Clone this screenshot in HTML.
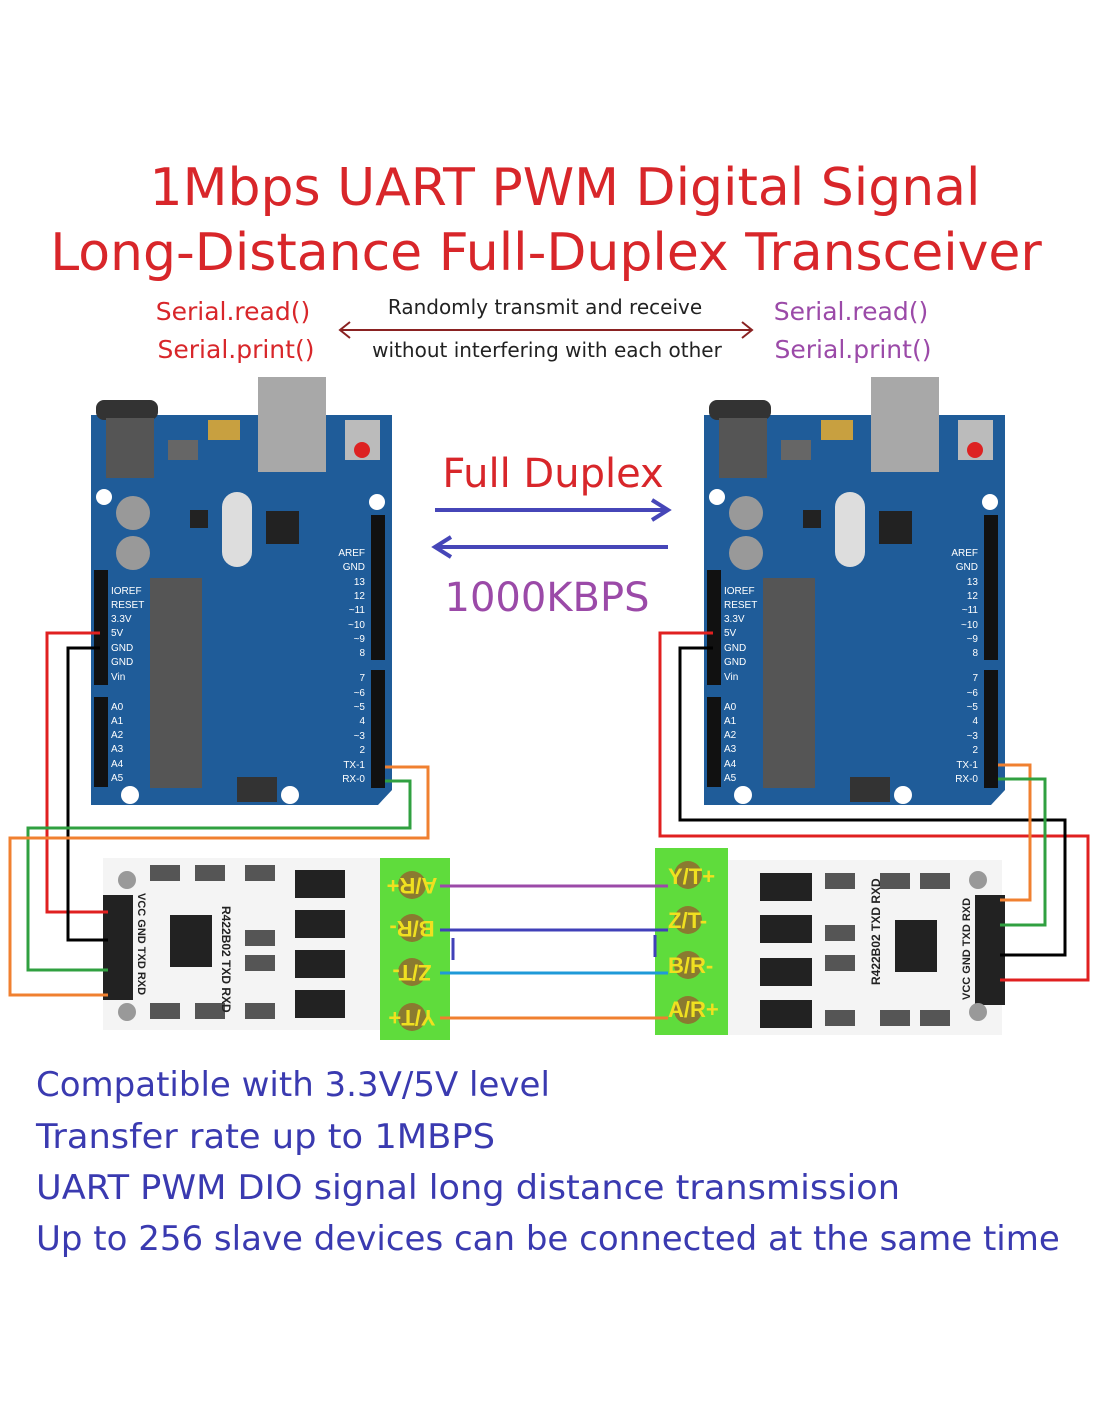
<!DOCTYPE html>
<html><head><meta charset="utf-8"><style>
html,body{margin:0;padding:0;background:#fff}
svg{display:block}
text{font-family:"Liberation Sans","DejaVu Sans",sans-serif}
.t{font-family:"DejaVu Sans","Liberation Sans",sans-serif}
</style></head><body>
<svg width="1100" height="1422" viewBox="0 0 1100 1422" xmlns="http://www.w3.org/2000/svg">
<rect width="1100" height="1422" fill="#fff"/>
<text class="t" x="565" y="205" font-size="52" fill="#d8262a" text-anchor="middle">1Mbps UART PWM Digital Signal</text>
<text class="t" x="546" y="270" font-size="52" fill="#d8262a" text-anchor="middle">Long-Distance Full-Duplex Transceiver</text>
<text class="t" x="233" y="320" font-size="25" fill="#d8262a" text-anchor="middle">Serial.read()</text>
<text class="t" x="236" y="358" font-size="25" fill="#d8262a" text-anchor="middle">Serial.print()</text>
<text class="t" x="851" y="320" font-size="25" fill="#9b4aa8" text-anchor="middle">Serial.read()</text>
<text class="t" x="853" y="358" font-size="25" fill="#9b4aa8" text-anchor="middle">Serial.print()</text>
<text class="t" x="545" y="314" font-size="20" fill="#222" text-anchor="middle">Randomly transmit and receive</text>
<text class="t" x="547" y="357" font-size="20" fill="#222" text-anchor="middle">without interfering with each other</text>
<line x1="340" y1="330" x2="752" y2="330" stroke="#8a2222" stroke-width="2"/>
<path d="M350 322 L340 330 L350 338 M742 322 L752 330 L742 338" fill="none" stroke="#8a2222" stroke-width="2"/>
<text class="t" x="553" y="487" font-size="40" fill="#d8262a" text-anchor="middle">Full Duplex</text>
<line x1="435" y1="510" x2="668" y2="510" stroke="#4646b8" stroke-width="4"/>
<path d="M652 500 L668 510 L652 520" fill="none" stroke="#4646b8" stroke-width="4"/>
<line x1="435" y1="547" x2="668" y2="547" stroke="#4646b8" stroke-width="4"/>
<path d="M451 537 L435 547 L451 557" fill="none" stroke="#4646b8" stroke-width="4"/>
<text class="t" x="547" y="611" font-size="40" fill="#9b4aa8" text-anchor="middle">1000KBPS</text>

<g>
<path d="M91 415 H392 V790 L378 805 H91 Z" fill="#1f5c99"/>
<rect x="258" y="377" width="68" height="95" fill="#a8a8a8"/>
<rect x="96" y="400" width="62" height="20" rx="8" fill="#333"/>
<rect x="106" y="418" width="48" height="60" fill="#555"/>
<rect x="345" y="420" width="35" height="40" fill="#bbb"/><circle cx="362" cy="450" r="8" fill="#d22"/>
<rect x="208" y="420" width="32" height="20" fill="#c8a040"/>
<rect x="168" y="440" width="30" height="20" fill="#666"/>
<circle cx="133" cy="513" r="17" fill="#999"/><circle cx="133" cy="553" r="17" fill="#999"/>
<rect x="222" y="492" width="30" height="75" rx="15" fill="#ddd"/>
<rect x="266" y="511" width="33" height="33" fill="#222"/>
<rect x="190" y="510" width="18" height="18" fill="#222"/>
<rect x="150" y="578" width="52" height="210" fill="#555"/>
<circle cx="104" cy="497" r="8" fill="#fff"/><circle cx="377" cy="502" r="8" fill="#fff"/>
<circle cx="130" cy="795" r="9" fill="#fff"/><circle cx="290" cy="795" r="9" fill="#fff"/>
<rect x="237" y="777" width="40" height="25" fill="#333"/>
<rect x="94" y="570" width="14" height="115" fill="#111"/>
<rect x="94" y="697" width="14" height="90" fill="#111"/>
<rect x="371" y="515" width="14" height="145" fill="#111"/>
<rect x="371" y="670" width="14" height="118" fill="#111"/>
<g font-size="10" fill="#fff">
<text x="111" y="594">IOREF</text><text x="111" y="608">RESET</text><text x="111" y="622">3.3V</text><text x="111" y="636">5V</text><text x="111" y="651">GND</text><text x="111" y="665">GND</text><text x="111" y="680">Vin</text>
<text x="111" y="710">A0</text><text x="111" y="724">A1</text><text x="111" y="738">A2</text><text x="111" y="752">A3</text><text x="111" y="767">A4</text><text x="111" y="781">A5</text>
<text x="365" y="556" text-anchor="end">AREF</text><text x="365" y="570" text-anchor="end">GND</text><text x="365" y="585" text-anchor="end">13</text><text x="365" y="599" text-anchor="end">12</text><text x="365" y="613" text-anchor="end">~11</text><text x="365" y="628" text-anchor="end">~10</text><text x="365" y="642" text-anchor="end">~9</text><text x="365" y="656" text-anchor="end">8</text>
<text x="365" y="681" text-anchor="end">7</text><text x="365" y="696" text-anchor="end">~6</text><text x="365" y="710" text-anchor="end">~5</text><text x="365" y="724" text-anchor="end">4</text><text x="365" y="739" text-anchor="end">~3</text><text x="365" y="753" text-anchor="end">2</text><text x="365" y="768" text-anchor="end">TX-1</text><text x="365" y="782" text-anchor="end">RX-0</text>
</g>
</g>

<g transform="translate(613,0)">
<path d="M91 415 H392 V790 L378 805 H91 Z" fill="#1f5c99"/>
<rect x="258" y="377" width="68" height="95" fill="#a8a8a8"/>
<rect x="96" y="400" width="62" height="20" rx="8" fill="#333"/>
<rect x="106" y="418" width="48" height="60" fill="#555"/>
<rect x="345" y="420" width="35" height="40" fill="#bbb"/><circle cx="362" cy="450" r="8" fill="#d22"/>
<rect x="208" y="420" width="32" height="20" fill="#c8a040"/>
<rect x="168" y="440" width="30" height="20" fill="#666"/>
<circle cx="133" cy="513" r="17" fill="#999"/><circle cx="133" cy="553" r="17" fill="#999"/>
<rect x="222" y="492" width="30" height="75" rx="15" fill="#ddd"/>
<rect x="266" y="511" width="33" height="33" fill="#222"/>
<rect x="190" y="510" width="18" height="18" fill="#222"/>
<rect x="150" y="578" width="52" height="210" fill="#555"/>
<circle cx="104" cy="497" r="8" fill="#fff"/><circle cx="377" cy="502" r="8" fill="#fff"/>
<circle cx="130" cy="795" r="9" fill="#fff"/><circle cx="290" cy="795" r="9" fill="#fff"/>
<rect x="237" y="777" width="40" height="25" fill="#333"/>
<rect x="94" y="570" width="14" height="115" fill="#111"/>
<rect x="94" y="697" width="14" height="90" fill="#111"/>
<rect x="371" y="515" width="14" height="145" fill="#111"/>
<rect x="371" y="670" width="14" height="118" fill="#111"/>
<g font-size="10" fill="#fff">
<text x="111" y="594">IOREF</text><text x="111" y="608">RESET</text><text x="111" y="622">3.3V</text><text x="111" y="636">5V</text><text x="111" y="651">GND</text><text x="111" y="665">GND</text><text x="111" y="680">Vin</text>
<text x="111" y="710">A0</text><text x="111" y="724">A1</text><text x="111" y="738">A2</text><text x="111" y="752">A3</text><text x="111" y="767">A4</text><text x="111" y="781">A5</text>
<text x="365" y="556" text-anchor="end">AREF</text><text x="365" y="570" text-anchor="end">GND</text><text x="365" y="585" text-anchor="end">13</text><text x="365" y="599" text-anchor="end">12</text><text x="365" y="613" text-anchor="end">~11</text><text x="365" y="628" text-anchor="end">~10</text><text x="365" y="642" text-anchor="end">~9</text><text x="365" y="656" text-anchor="end">8</text>
<text x="365" y="681" text-anchor="end">7</text><text x="365" y="696" text-anchor="end">~6</text><text x="365" y="710" text-anchor="end">~5</text><text x="365" y="724" text-anchor="end">4</text><text x="365" y="739" text-anchor="end">~3</text><text x="365" y="753" text-anchor="end">2</text><text x="365" y="768" text-anchor="end">TX-1</text><text x="365" y="782" text-anchor="end">RX-0</text>
</g>
</g>

<rect x="103" y="858" width="290" height="172" fill="#f4f4f4"/>
<rect x="103" y="895" width="30" height="105" fill="#222"/>
<rect x="170" y="915" width="42" height="52" fill="#222"/>
<g fill="#222"><rect x="295" y="870" width="50" height="28"/><rect x="295" y="910" width="50" height="28"/><rect x="295" y="950" width="50" height="28"/><rect x="295" y="990" width="50" height="28"/></g>
<g fill="#555"><rect x="150" y="865" width="30" height="16"/><rect x="195" y="865" width="30" height="16"/><rect x="245" y="865" width="30" height="16"/><rect x="245" y="930" width="30" height="16"/><rect x="245" y="955" width="30" height="16"/><rect x="150" y="1003" width="30" height="16"/><rect x="195" y="1003" width="30" height="16"/><rect x="245" y="1003" width="30" height="16"/></g>
<circle cx="127" cy="880" r="9" fill="#999"/><circle cx="127" cy="1012" r="9" fill="#999"/>
<text transform="translate(222,906) rotate(90)" font-size="12" font-weight="bold" fill="#222">R422B02 TXD RXD</text>
<text transform="translate(138,893) rotate(90)" font-size="11" font-weight="bold" fill="#222">VCC GND TXD RXD</text>
<rect x="380" y="858" width="70" height="182" fill="#5fdc3c"/>
<g fill="#8a7a30"><circle cx="412" cy="885" r="14"/><circle cx="412" cy="928" r="14"/><circle cx="412" cy="972" r="14"/><circle cx="412" cy="1017" r="14"/></g>
<g font-size="22" fill="#f0e020" font-weight="bold" text-anchor="middle">
<text transform="translate(412,878) rotate(180)">A/R+</text><text transform="translate(412,921) rotate(180)">B/R-</text><text transform="translate(412,965) rotate(180)">Z/T-</text><text transform="translate(412,1010) rotate(180)">Y/T+</text></g>

<rect x="720" y="860" width="282" height="175" fill="#f4f4f4"/>
<rect x="975" y="895" width="30" height="110" fill="#222"/>
<rect x="895" y="920" width="42" height="52" fill="#222"/>
<g fill="#222"><rect x="760" y="873" width="52" height="28"/><rect x="760" y="915" width="52" height="28"/><rect x="760" y="958" width="52" height="28"/><rect x="760" y="1000" width="52" height="28"/></g>
<g fill="#555"><rect x="825" y="873" width="30" height="16"/><rect x="880" y="873" width="30" height="16"/><rect x="920" y="873" width="30" height="16"/><rect x="825" y="925" width="30" height="16"/><rect x="825" y="955" width="30" height="16"/><rect x="825" y="1010" width="30" height="16"/><rect x="880" y="1010" width="30" height="16"/><rect x="920" y="1010" width="30" height="16"/></g>
<circle cx="978" cy="880" r="9" fill="#999"/><circle cx="978" cy="1012" r="9" fill="#999"/>
<text transform="translate(880,985) rotate(-90)" font-size="12" font-weight="bold" fill="#222">R422B02 TXD RXD</text>
<text transform="translate(970,1000) rotate(-90)" font-size="11" font-weight="bold" fill="#222">VCC GND TXD RXD</text>
<rect x="655" y="848" width="73" height="187" fill="#5fdc3c"/>
<g fill="#8a7a30"><circle cx="688" cy="875" r="14"/><circle cx="688" cy="920" r="14"/><circle cx="688" cy="965" r="14"/><circle cx="688" cy="1010" r="14"/></g>
<g font-size="22" fill="#f0e020" font-weight="bold">
<text x="668" y="884">Y/T+</text><text x="668" y="928">Z/T-</text><text x="668" y="973">B/R-</text><text x="668" y="1017">A/R+</text></g>

<g fill="none" stroke-width="3">
<path d="M440 886 H668" stroke="#9b4aa8"/>
<path d="M440 930 H668" stroke="#4040b8"/>
<path d="M440 973 H668" stroke="#1f9ad8"/>
<path d="M440 1018 H668" stroke="#f08030"/>
<path d="M453 938 V960 M655 935 V957" stroke="#4040b8"/>
<path d="M100 633 H47 V912 H108" stroke="#e02020"/>
<path d="M100 648 H68 V940 H108" stroke="#000"/>
<path d="M385 781 H410 V828 H28 V970 H108" stroke="#30a040"/>
<path d="M385 767 H428 V838 H10 V995 H108" stroke="#f08030"/>
<path d="M713 633 H660 V836 H1088 V980 H1000" stroke="#e02020"/>
<path d="M713 648 H680 V820 H1065 V955 H1000" stroke="#000"/>
<path d="M998 765 H1030 V900 H1000" stroke="#f08030"/>
<path d="M998 779 H1045 V925 H1000" stroke="#30a040"/>
</g>

<g font-size="34" fill="#3a3ab0">
<text class="t" x="36" y="1096">Compatible with 3.3V/5V level</text>
<text class="t" x="36" y="1148" textLength="459" lengthAdjust="spacingAndGlyphs">Transfer rate up to 1MBPS</text>
<text class="t" x="36" y="1199" textLength="864" lengthAdjust="spacingAndGlyphs">UART PWM DIO signal long distance transmission</text>
<text class="t" x="36" y="1250">Up to 256 slave devices can be connected at the same time</text>
</g>
</svg>
</body></html>
